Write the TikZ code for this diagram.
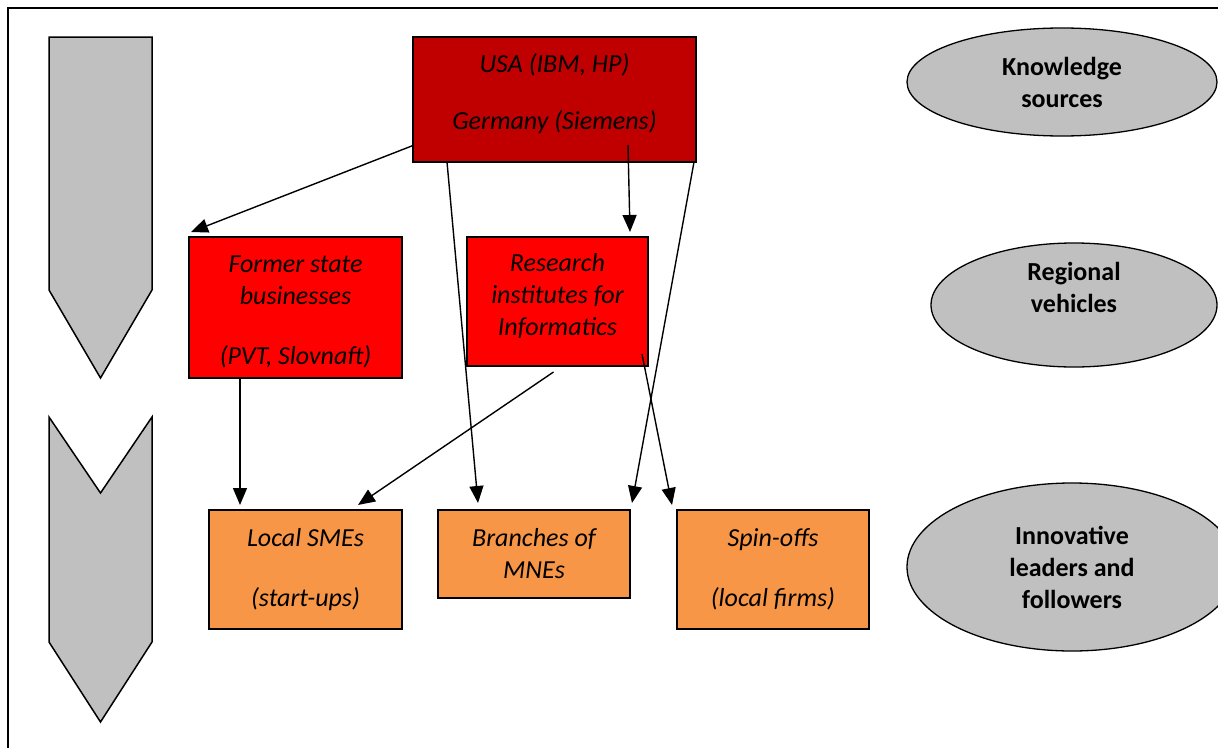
\documentclass[tikz,border=0pt]{standalone}
\usepackage{fontspec}
\setmainfont{Carlito}
\newcommand*{\boxfont}{\fontsize{26}{32}\selectfont}
\definecolor{D}{HTML}{C00000}
\definecolor{R}{HTML}{FF0000}
\definecolor{O}{HTML}{F79646}
\definecolor{G}{HTML}{C0C0C0}
\usepackage{tikz}
\usetikzlibrary{arrows.meta}
\usetikzlibrary{shapes.geometric}
\tikzstyle{base}=[x=1pt, y=-1pt, inner sep=0pt, outer sep=0pt]
\tikzstyle{actor}=[draw=black, line width=1.6pt, rectangle, align=center, font=\boxfont\itshape]
\tikzstyle{tier}=[draw=black, line width=1.3pt, fill=G, ellipse, align=center, font=\boxfont\bfseries]
\tikzstyle{flow}=[line width=1.4pt, -{Triangle[length=17pt,width=14pt]}]
\tikzstyle{stage}=[draw=black, line width=1.5pt, fill=G, line join=miter]

\begin{document}
\begin{tikzpicture}[base]
    \boxfont
        \path [use as bounding box, clip] (0,0) rectangle (1218,747);
        \draw [line width=1.5pt] (8,747 + 10) -- (8,8) -- (1218 + 10,8);
        \draw [stage] (49,37) -- (152,37) -- (152,290) -- (100.5,378) -- (49,290) -- cycle;
        \draw [stage] (49,417) -- (100.5,493) -- (152,417) -- (152,642) -- (100.5,722) -- (49,642) -- cycle;
        \node [actor, fill=D, minimum width=283pt, minimum height=125pt] (usa) at (554.5,99.5) {USA (IBM, HP)\\[25pt]Germany (Siemens)\rule[-16pt]{0pt}{1pt}};
        \node [actor, fill=R, minimum width=213pt, minimum height=141pt] (former) at (295.5,307.5) {\rule{0pt}{26pt}Former state\\businesses\\[28pt](PVT, Slovnaft)};
        \node [actor, fill=R, minimum width=181pt, minimum height=129pt] (research) at (557.5,301.5) {Research\\institutes for\\Informatics\rule[-14pt]{0pt}{1pt}};
        \node [actor, fill=O, minimum width=193pt, minimum height=119pt] (local) at (305.5,569.5) {Local SMEs\\[28pt](start-ups)};
        \node [actor, fill=O, minimum width=192pt, minimum height=88pt] (branches) at (534,554) {Branches of\\MNEs};
        \node [actor, fill=O, minimum width=192pt, minimum height=119pt] (spin) at (773,569.5) {Spin-offs\\[28pt](local firms)};
        \node [tier, minimum width=310pt, minimum height=108pt] (knowledge) at (1062,82) {Knowledge\\sources};
        \node [tier, minimum width=286pt, minimum height=124pt] (vehicles) at (1074,305) {Regional\\vehicles\rule[-36pt]{0pt}{1pt}};
        \node [tier, minimum width=330pt, minimum height=168pt] (leaders) at (1072,567) {Innovative\\leaders and\\followers};
        \draw [flow] ([yshift=-46pt]usa.west) -- ([shift={(2pt,5pt)}]former.north west);
        \draw [flow] ([xshift=34pt]usa.south west) -- ([shift={(40pt,7pt)}]branches.north west);
        \draw [flow] ([shift={(-68pt,17pt)}]usa.south east) -- ([shift={(-18pt,5pt)}]research.north east);
        \draw [flow] ([xshift=-2pt]usa.south east) -- ([shift={(2pt,7pt)}]branches.north east);
        \draw [flow] ([shift={(-6pt,12pt)}]research.south east) -- ([shift={(-5pt,5pt)}]spin.north west);
        \draw [flow] ([shift={(-4pt,-6pt)}]research.south) -- ([shift={(-44pt,5pt)}]local.north east);
        \draw [flow] ([xshift=51pt]former.south west) -- ([shift={(31pt,5pt)}]local.north west);
    \end{tikzpicture}
\end{document}
